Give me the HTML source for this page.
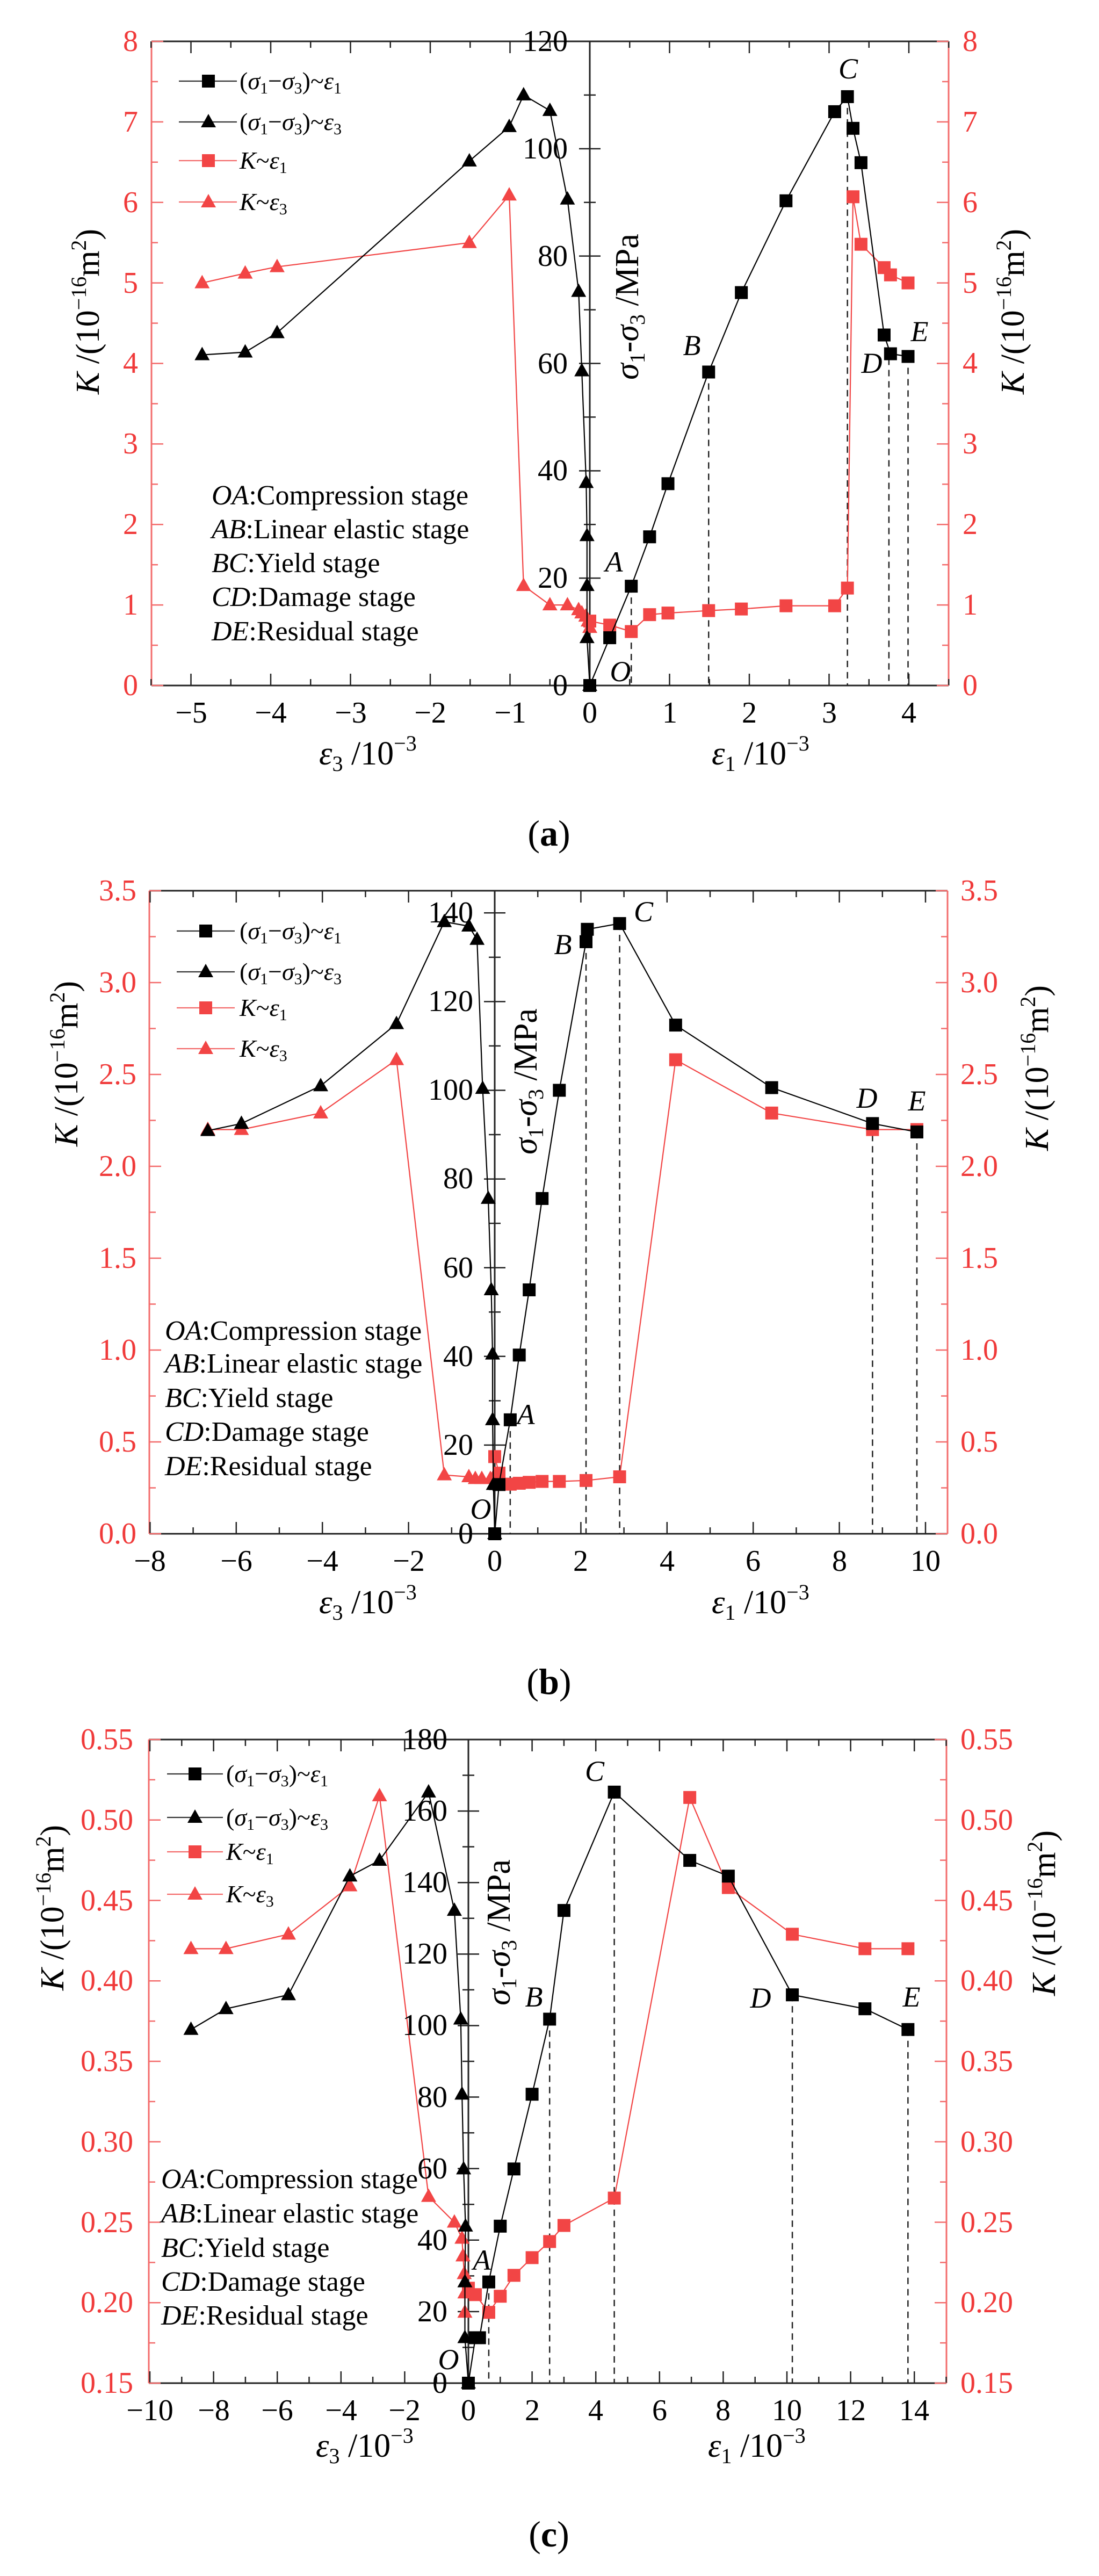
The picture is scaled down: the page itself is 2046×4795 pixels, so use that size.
<!DOCTYPE html>
<html><head><meta charset="utf-8"><style>
html,body{margin:0;padding:0;background:#fff;}
svg{display:block;}
text{font-family:"Liberation Serif",serif;}
.t{font-size:56px;}
.r{fill:#f03a3a;}
.lg{font-size:46px;}
.st{font-size:52px;}
.pl{font-size:54px;font-style:italic;}
.ti{font-size:62px;}
.cap{font-size:68px;}
</style></head><body>
<svg id="s" width="2046" height="4795" viewBox="0 0 2046 4795" xmlns="http://www.w3.org/2000/svg">
<rect width="2046" height="4795" fill="#fff"/>
<g id="g"></g>

<!-- ===== Panel (a) ===== -->
<g class="t r" text-anchor="end">
<text x="257" y="1294">0</text><text x="257" y="1144">1</text><text x="257" y="994">2</text><text x="257" y="844">3</text><text x="257" y="694">4</text><text x="257" y="545">5</text><text x="257" y="395">6</text><text x="257" y="245">7</text><text x="257" y="95">8</text>
</g>
<g class="t r">
<text x="1792" y="1294">0</text><text x="1792" y="1144">1</text><text x="1792" y="994">2</text><text x="1792" y="844">3</text><text x="1792" y="694">4</text><text x="1792" y="545">5</text><text x="1792" y="395">6</text><text x="1792" y="245">7</text><text x="1792" y="95">8</text>
</g>
<g class="t" text-anchor="end">
<text x="1057" y="1294">0</text><text x="1057" y="1094">20</text><text x="1057" y="894">40</text><text x="1057" y="695">60</text><text x="1057" y="495">80</text><text x="1057" y="295">100</text><text x="1057" y="95">120</text>
</g>
<g class="t" text-anchor="middle">
<text x="356" y="1345">−5</text><text x="504" y="1345">−4</text><text x="653" y="1345">−3</text><text x="801" y="1345">−2</text><text x="950" y="1345">−1</text><text x="1098" y="1345">0</text><text x="1247" y="1345">1</text><text x="1395" y="1345">2</text><text x="1544" y="1345">3</text><text x="1692" y="1345">4</text>
</g>
<text class="ti" transform="translate(184,580) rotate(-90)" text-anchor="middle"><tspan font-style="italic">K</tspan> /(10<tspan dy="-24" font-size="40">−16</tspan><tspan dy="24">m</tspan><tspan dy="-24" font-size="40">2</tspan><tspan dy="24">)</tspan></text>
<text class="ti" transform="translate(1906,580) rotate(-90)" text-anchor="middle"><tspan font-style="italic">K</tspan> /(10<tspan dy="-24" font-size="40">−16</tspan><tspan dy="24">m</tspan><tspan dy="-24" font-size="40">2</tspan><tspan dy="24">)</tspan></text>
<text class="ti" transform="translate(1188,571) rotate(-90)" text-anchor="middle"><tspan font-style="italic">σ</tspan><tspan font-size="40" dy="12">1</tspan><tspan dy="-12">-</tspan><tspan font-style="italic">σ</tspan><tspan font-size="40" dy="12">3</tspan><tspan dy="-12"> /MPa</tspan></text>
<text class="ti" x="594" y="1423"><tspan font-style="italic">ε</tspan><tspan font-size="40" dy="12">3</tspan><tspan dy="-12"> /10</tspan><tspan font-size="40" dy="-26">−3</tspan></text>
<text class="ti" x="1325" y="1423"><tspan font-style="italic">ε</tspan><tspan font-size="40" dy="12">1</tspan><tspan dy="-12"> /10</tspan><tspan font-size="40" dy="-26">−3</tspan></text>
<text class="cap" x="1022" y="1574" text-anchor="middle">(<tspan font-weight="bold">a</tspan>)</text>
<g class="lg">
<text x="446" y="166">(<tspan font-style="italic">σ</tspan><tspan font-size="30" dy="8">1</tspan><tspan dy="-8">−</tspan><tspan font-style="italic">σ</tspan><tspan font-size="30" dy="8">3</tspan><tspan dy="-8">)~</tspan><tspan font-style="italic">ε</tspan><tspan font-size="30" dy="8">1</tspan></text>
<text x="446" y="242">(<tspan font-style="italic">σ</tspan><tspan font-size="30" dy="8">1</tspan><tspan dy="-8">−</tspan><tspan font-style="italic">σ</tspan><tspan font-size="30" dy="8">3</tspan><tspan dy="-8">)~</tspan><tspan font-style="italic">ε</tspan><tspan font-size="30" dy="8">3</tspan></text>
<text x="446" y="314"><tspan font-style="italic">K</tspan>~<tspan font-style="italic">ε</tspan><tspan font-size="30" dy="8">1</tspan></text>
<text x="446" y="391"><tspan font-style="italic">K</tspan>~<tspan font-style="italic">ε</tspan><tspan font-size="30" dy="8">3</tspan></text>
</g>
<g class="st">
<text x="394" y="939"><tspan font-style="italic">OA</tspan>:Compression stage</text>
<text x="394" y="1002"><tspan font-style="italic">AB</tspan>:Linear elastic  stage</text>
<text x="394" y="1065"><tspan font-style="italic">BC</tspan>:Yield stage</text>
<text x="394" y="1128"><tspan font-style="italic">CD</tspan>:Damage stage</text>
<text x="394" y="1192"><tspan font-style="italic">DE</tspan>:Residual stage</text>
</g>
<g class="pl" text-anchor="middle">
<text x="1579" y="146">C</text><text x="1288" y="661">B</text><text x="1143" y="1064">A</text><text x="1155" y="1268">O</text><text x="1623" y="694">D</text><text x="1712" y="635">E</text>
</g>

<!-- ===== Panel (b) ===== -->
<g class="t r" text-anchor="end">
<text x="254" y="2873">0.0</text><text x="254" y="2702">0.5</text><text x="254" y="2531">1.0</text><text x="254" y="2360">1.5</text><text x="254" y="2189">2.0</text><text x="254" y="2018">2.5</text><text x="254" y="1847">3.0</text><text x="254" y="1676">3.5</text>
</g>
<g class="t r">
<text x="1788" y="2873">0.0</text><text x="1788" y="2702">0.5</text><text x="1788" y="2531">1.0</text><text x="1788" y="2360">1.5</text><text x="1788" y="2189">2.0</text><text x="1788" y="2018">2.5</text><text x="1788" y="1847">3.0</text><text x="1788" y="1676">3.5</text>
</g>
<g class="t" text-anchor="end">
<text x="881" y="2873">0</text><text x="881" y="2708">20</text><text x="881" y="2543">40</text><text x="881" y="2378">60</text><text x="881" y="2212">80</text><text x="881" y="2047">100</text><text x="881" y="1882">120</text><text x="881" y="1717">140</text>
</g>
<g class="t" text-anchor="middle">
<text x="279" y="2924">−8</text><text x="440" y="2924">−6</text><text x="600" y="2924">−4</text><text x="761" y="2924">−2</text><text x="921" y="2924">0</text><text x="1081" y="2924">2</text><text x="1242" y="2924">4</text><text x="1402" y="2924">6</text><text x="1563" y="2924">8</text><text x="1723" y="2924">10</text>
</g>
<text class="ti" transform="translate(144,1980) rotate(-90)" text-anchor="middle"><tspan font-style="italic">K</tspan> /(10<tspan dy="-24" font-size="40">−16</tspan><tspan dy="24">m</tspan><tspan dy="-24" font-size="40">2</tspan><tspan dy="24">)</tspan></text>
<text class="ti" transform="translate(1951,1988) rotate(-90)" text-anchor="middle"><tspan font-style="italic">K</tspan> /(10<tspan dy="-24" font-size="40">−16</tspan><tspan dy="24">m</tspan><tspan dy="-24" font-size="40">2</tspan><tspan dy="24">)</tspan></text>
<text class="ti" transform="translate(999,2013) rotate(-90)" text-anchor="middle"><tspan font-style="italic">σ</tspan><tspan font-size="40" dy="12">1</tspan><tspan dy="-12">-</tspan><tspan font-style="italic">σ</tspan><tspan font-size="40" dy="12">3</tspan><tspan dy="-12"> /MPa</tspan></text>
<text class="ti" x="594" y="3003"><tspan font-style="italic">ε</tspan><tspan font-size="40" dy="12">3</tspan><tspan dy="-12"> /10</tspan><tspan font-size="40" dy="-26">−3</tspan></text>
<text class="ti" x="1325" y="3003"><tspan font-style="italic">ε</tspan><tspan font-size="40" dy="12">1</tspan><tspan dy="-12"> /10</tspan><tspan font-size="40" dy="-26">−3</tspan></text>
<text class="cap" x="1022" y="3153" text-anchor="middle">(<tspan font-weight="bold">b</tspan>)</text>
<g class="lg">
<text x="446" y="1748">(<tspan font-style="italic">σ</tspan><tspan font-size="30" dy="8">1</tspan><tspan dy="-8">−</tspan><tspan font-style="italic">σ</tspan><tspan font-size="30" dy="8">3</tspan><tspan dy="-8">)~</tspan><tspan font-style="italic">ε</tspan><tspan font-size="30" dy="8">1</tspan></text>
<text x="446" y="1824">(<tspan font-style="italic">σ</tspan><tspan font-size="30" dy="8">1</tspan><tspan dy="-8">−</tspan><tspan font-style="italic">σ</tspan><tspan font-size="30" dy="8">3</tspan><tspan dy="-8">)~</tspan><tspan font-style="italic">ε</tspan><tspan font-size="30" dy="8">3</tspan></text>
<text x="446" y="1891"><tspan font-style="italic">K</tspan>~<tspan font-style="italic">ε</tspan><tspan font-size="30" dy="8">1</tspan></text>
<text x="446" y="1967"><tspan font-style="italic">K</tspan>~<tspan font-style="italic">ε</tspan><tspan font-size="30" dy="8">3</tspan></text>
</g>
<g class="st">
<text x="307" y="2494"><tspan font-style="italic">OA</tspan>:Compression stage</text>
<text x="307" y="2555"><tspan font-style="italic">AB</tspan>:Linear elastic  stage</text>
<text x="307" y="2619"><tspan font-style="italic">BC</tspan>:Yield stage</text>
<text x="307" y="2682"><tspan font-style="italic">CD</tspan>:Damage stage</text>
<text x="307" y="2746"><tspan font-style="italic">DE</tspan>:Residual stage</text>
</g>
<g class="pl" text-anchor="middle">
<text x="1198" y="1715">C</text><text x="1048" y="1776">B</text><text x="979" y="2651">A</text><text x="895" y="2827">O</text><text x="1614" y="2062">D</text><text x="1707" y="2067">E</text>
</g>

<!-- ===== Panel (c) ===== -->
<g class="t r" text-anchor="end">
<text x="248" y="4454">0.15</text><text x="248" y="4304">0.20</text><text x="248" y="4155">0.25</text><text x="248" y="4005">0.30</text><text x="248" y="3855">0.35</text><text x="248" y="3705">0.40</text><text x="248" y="3556">0.45</text><text x="248" y="3406">0.50</text><text x="248" y="3256">0.55</text>
</g>
<g class="t r">
<text x="1788" y="4454">0.15</text><text x="1788" y="4304">0.20</text><text x="1788" y="4155">0.25</text><text x="1788" y="4005">0.30</text><text x="1788" y="3855">0.35</text><text x="1788" y="3705">0.40</text><text x="1788" y="3556">0.45</text><text x="1788" y="3406">0.50</text><text x="1788" y="3256">0.55</text>
</g>
<g class="t" text-anchor="end">
<text x="833" y="4454">0</text><text x="833" y="4321">20</text><text x="833" y="4188">40</text><text x="833" y="4055">60</text><text x="833" y="3922">80</text><text x="833" y="3788">100</text><text x="833" y="3655">120</text><text x="833" y="3522">140</text><text x="833" y="3389">160</text><text x="833" y="3256">180</text>
</g>
<g class="t" text-anchor="middle">
<text x="279" y="4505">−10</text><text x="398" y="4505">−8</text><text x="516" y="4505">−6</text><text x="635" y="4505">−4</text><text x="753" y="4505">−2</text><text x="872" y="4505">0</text><text x="991" y="4505">2</text><text x="1109" y="4505">4</text><text x="1228" y="4505">6</text><text x="1346" y="4505">8</text><text x="1465" y="4505">10</text><text x="1584" y="4505">12</text><text x="1702" y="4505">14</text>
</g>
<text class="ti" transform="translate(118,3551) rotate(-90)" text-anchor="middle"><tspan font-style="italic">K</tspan> /(10<tspan dy="-24" font-size="40">−16</tspan><tspan dy="24">m</tspan><tspan dy="-24" font-size="40">2</tspan><tspan dy="24">)</tspan></text>
<text class="ti" transform="translate(1964,3561) rotate(-90)" text-anchor="middle"><tspan font-style="italic">K</tspan> /(10<tspan dy="-24" font-size="40">−16</tspan><tspan dy="24">m</tspan><tspan dy="-24" font-size="40">2</tspan><tspan dy="24">)</tspan></text>
<text class="ti" transform="translate(949,3597) rotate(-90)" text-anchor="middle"><tspan font-style="italic">σ</tspan><tspan font-size="40" dy="12">1</tspan><tspan dy="-12">-</tspan><tspan font-style="italic">σ</tspan><tspan font-size="40" dy="12">3</tspan><tspan dy="-12"> /MPa</tspan></text>
<text class="ti" x="588" y="4573"><tspan font-style="italic">ε</tspan><tspan font-size="40" dy="12">3</tspan><tspan dy="-12"> /10</tspan><tspan font-size="40" dy="-26">−3</tspan></text>
<text class="ti" x="1318" y="4573"><tspan font-style="italic">ε</tspan><tspan font-size="40" dy="12">1</tspan><tspan dy="-12"> /10</tspan><tspan font-size="40" dy="-26">−3</tspan></text>
<text class="cap" x="1022" y="4740" text-anchor="middle">(<tspan font-weight="bold">c</tspan>)</text>
<g class="lg">
<text x="421" y="3317">(<tspan font-style="italic">σ</tspan><tspan font-size="30" dy="8">1</tspan><tspan dy="-8">−</tspan><tspan font-style="italic">σ</tspan><tspan font-size="30" dy="8">3</tspan><tspan dy="-8">)~</tspan><tspan font-style="italic">ε</tspan><tspan font-size="30" dy="8">1</tspan></text>
<text x="421" y="3398">(<tspan font-style="italic">σ</tspan><tspan font-size="30" dy="8">1</tspan><tspan dy="-8">−</tspan><tspan font-style="italic">σ</tspan><tspan font-size="30" dy="8">3</tspan><tspan dy="-8">)~</tspan><tspan font-style="italic">ε</tspan><tspan font-size="30" dy="8">3</tspan></text>
<text x="421" y="3462"><tspan font-style="italic">K</tspan>~<tspan font-style="italic">ε</tspan><tspan font-size="30" dy="8">1</tspan></text>
<text x="421" y="3541"><tspan font-style="italic">K</tspan>~<tspan font-style="italic">ε</tspan><tspan font-size="30" dy="8">3</tspan></text>
</g>
<g class="st">
<text x="300" y="4073"><tspan font-style="italic">OA</tspan>:Compression stage</text>
<text x="300" y="4137"><tspan font-style="italic">AB</tspan>:Linear elastic  stage</text>
<text x="300" y="4201"><tspan font-style="italic">BC</tspan>:Yield stage</text>
<text x="300" y="4264"><tspan font-style="italic">CD</tspan>:Damage stage</text>
<text x="300" y="4327"><tspan font-style="italic">DE</tspan>:Residual stage</text>
</g>
<g class="pl" text-anchor="middle">
<text x="1107" y="3315">C</text><text x="994" y="3735">B</text><text x="897" y="4225">A</text><text x="835" y="4410">O</text><text x="1416" y="3737">D</text><text x="1697" y="3735">E</text>
</g>
</svg>
<script>
(function(){
var NS="http://www.w3.org/2000/svg",G=document.getElementById("g");
var RED="#f24545",RA="#f36b6b";
function el(n,a){var e=document.createElementNS(NS,n);for(var k in a)e.setAttribute(k,a[k]);G.appendChild(e);return e;}
function line(x1,y1,x2,y2,c,w,d){var a={x1:x1,y1:y1,x2:x2,y2:y2,stroke:c,"stroke-width":w||2};if(d)a["stroke-dasharray"]=d;el("line",a);}
function sq(x,y,c){el("rect",{x:x-12,y:y-12,width:24,height:24,fill:c});}
function tri(x,y,c){el("polygon",{points:(x)+","+(y-15)+" "+(x-14)+","+(y+10)+" "+(x+14)+","+(y+10),fill:c});}
function P(c){
 var X=function(v){return c.X0+c.ux*v;};
 var YK=function(k){return c.B-(k-c.k0)/(c.kmax-c.k0)*(c.B-c.T);};
 var YS=function(s){return c.B-s/c.smax*(c.B-c.T);};
 line(c.L,c.T,c.R,c.T,"#222",3);line(c.L,c.B,c.R,c.B,"#222",3);
 line(c.L,c.T,c.L,c.B,RA,3);line(c.R,c.T,c.R,c.B,RA,3);
 for(var v=c.xa;v<=c.xb+1e-9;v+=c.xs){var maj=Math.abs(v/c.xm-Math.round(v/c.xm))<1e-6;var l=maj?22:12;
  line(X(v),c.B,X(v),c.B-l,"#222",2.5);line(X(v),c.T,X(v),c.T+l,"#222",2.5);}
 for(var k=c.k0;k<=c.kmax+1e-9;k+=c.ks){var maj=Math.abs((k-c.k0)/c.km-Math.round((k-c.k0)/c.km))<1e-6;var l=maj?22:12;
  line(c.L,YK(k),c.L+l,YK(k),RA,2.5);line(c.R,YK(k),c.R-l,YK(k),RA,2.5);}
 line(c.X0,c.T,c.X0,c.B,"#222",3);
 for(var s=0;s<=c.smax+1e-9;s+=10){var maj=s%20==0;var l=maj?20:11;line(c.X0-l,YS(s),c.X0+l,YS(s),"#222",2.5);}
 c.dash.forEach(function(d){line(X(d[0]),YS(d[1]),X(d[0]),c.B,"#222",2.5,"12,9");});
 function ser(arr,fy,col,m){var pts=arr.map(function(p){return X(p[0])+","+fy(p[1]);}).join(" ");
  el("polyline",{points:pts,fill:"none",stroke:col,"stroke-width":2.2});
  arr.forEach(function(p){m(X(p[0]),fy(p[1]),col);});}
 ser(c.kb,YK,RED,tri);ser(c.ka,YK,RED,sq);
 ser(c.s3,YS,"#000",tri);ser(c.s1,YS,"#000",sq);
 var lg=c.lg;var cols=["#000","#000",RED,RED],ms=[sq,tri,sq,tri];
 for(var i=0;i<4;i++){line(lg.x1,lg.y[i],lg.x2,lg.y[i],i<2?"#333":RA,2.2);ms[i](lg.m,lg.y[i],cols[i]);}
}
P({L:282,R:1766,T:77,B:1276,X0:1098,ux:148.5,xa:-5.5,xb:4.5,xs:0.5,xm:1,k0:0,kmax:8,ks:0.5,km:1,smax:120,
 s1:[[0,0],[0.25,8.9],[0.52,18.5],[0.75,27.7],[0.98,37.6],[1.49,58.4],[1.9,73.2],[2.46,90.3],[3.07,106.9],[3.23,109.7],[3.3,103.8],[3.4,97.4],[3.69,65.3],[3.77,61.8],[3.99,61.3]],
 s3:[[0,0],[-0.035,8.9],[-0.035,18.6],[-0.035,27.9],[-0.045,37.8],[-0.1,58.6],[-0.14,73.4],[-0.28,90.6],[-0.5,107.1],[-0.83,110],[-1.01,104.1],[-1.51,97.7],[-3.92,65.7],[-4.32,62.1],[-4.86,61.6]],
 ka:[[0,0.8],[0.25,0.75],[0.52,0.67],[0.75,0.88],[0.98,0.9],[1.49,0.93],[1.9,0.95],[2.46,0.99],[3.07,0.99],[3.23,1.21],[3.3,6.07],[3.4,5.48],[3.69,5.19],[3.77,5.1],[3.99,5.0]],
 kb:[[0,0.72],[-0.02,0.8],[-0.05,0.86],[-0.1,0.9],[-0.14,0.94],[-0.28,1.0],[-0.5,1.0],[-0.83,1.24],[-1.01,6.09],[-1.51,5.5],[-3.92,5.2],[-4.32,5.12],[-4.86,5.0]],
 dash:[[0.52,18.5],[1.49,58.4],[3.23,109.7],[3.75,63],[3.99,61.3]],
 lg:{x1:333,x2:441,m:388,y:[151,227,299,376]}});
P({L:278,R:1764,T:1658,B:2855,X0:921,ux:80.2,xa:-8,xb:10.5,xs:1,xm:2,k0:0,kmax:3.5,ks:0.25,km:0.5,smax:145,
 s1:[[0,0],[0.1,11.1],[0.36,25.7],[0.57,40.3],[0.8,55],[1.1,75.6],[1.5,100],[2.12,133.5],[2.15,136.3],[2.9,137.6],[4.2,114.7],[6.43,100.6],[8.77,92.5],[9.8,90.6]],
 s3:[[0,0],[-0.03,11.1],[-0.05,25.7],[-0.05,40.5],[-0.08,55],[-0.15,75.6],[-0.28,100.4],[-0.41,134],[-0.6,137],[-1.17,138],[-2.28,115],[-4.04,101],[-5.88,92.5],[-6.66,90.9]],
 ka:[[0,0.42],[0.1,0.33],[0.36,0.27],[0.57,0.275],[0.8,0.28],[1.1,0.285],[1.5,0.285],[2.12,0.29],[2.9,0.31],[4.2,2.58],[6.43,2.29],[8.77,2.2],[9.8,2.2]],
 kb:[[0,0.32],[-0.1,0.3],[-0.3,0.3],[-0.45,0.3],[-0.6,0.31],[-1.17,0.32],[-2.28,2.58],[-4.04,2.29],[-5.88,2.2],[-6.66,2.2]],
 dash:[[0.36,25.7],[2.12,133.5],[2.9,137.6],[8.77,92.5],[9.8,90.6]],
 lg:{x1:329,x2:437,m:383,y:[1733,1809,1876,1952]}});
P({L:277,R:1762,T:3238,B:4436,X0:872,ux:59.3,xa:-10,xb:15,xs:1,xm:2,k0:0.15,kmax:0.55,ks:0.025,km:0.05,smax:180,
 s1:[[0,0],[0.22,12.7],[0.35,12.7],[0.64,28.3],[1.0,43.9],[1.43,59.9],[2.0,80.8],[2.55,101.8],[3.0,132.2],[4.58,165.3],[6.95,146.2],[8.16,141.8],[10.17,108.6],[12.45,104.7],[13.8,98.9]],
 s3:[[0,0],[-0.11,12.7],[-0.11,28.3],[-0.09,43.9],[-0.15,59.9],[-0.2,80.8],[-0.24,101.8],[-0.44,132.2],[-1.25,165.3],[-2.79,146.2],[-3.72,141.8],[-5.65,108.6],[-7.61,104.7],[-8.71,98.9]],
 ka:[[0,0.209],[0.22,0.205],[0.64,0.194],[1.0,0.204],[1.43,0.217],[2.0,0.228],[2.55,0.238],[3.0,0.248],[4.58,0.265],[6.95,0.514],[8.16,0.458],[10.17,0.429],[12.45,0.42],[13.8,0.42]],
 kb:[[-0.11,0.194],[-0.11,0.206],[-0.13,0.218],[-0.17,0.229],[-0.2,0.24],[-0.44,0.25],[-1.25,0.266],[-2.79,0.515],[-3.72,0.459],[-5.65,0.429],[-7.61,0.42],[-8.71,0.42]],
 dash:[[0.64,28.3],[2.55,101.8],[4.58,165.3],[10.17,108.6],[13.8,98.9]],
 lg:{x1:311,x2:415,m:363,y:[3302,3383,3447,3526]}});
})();
</script>
</body></html>
